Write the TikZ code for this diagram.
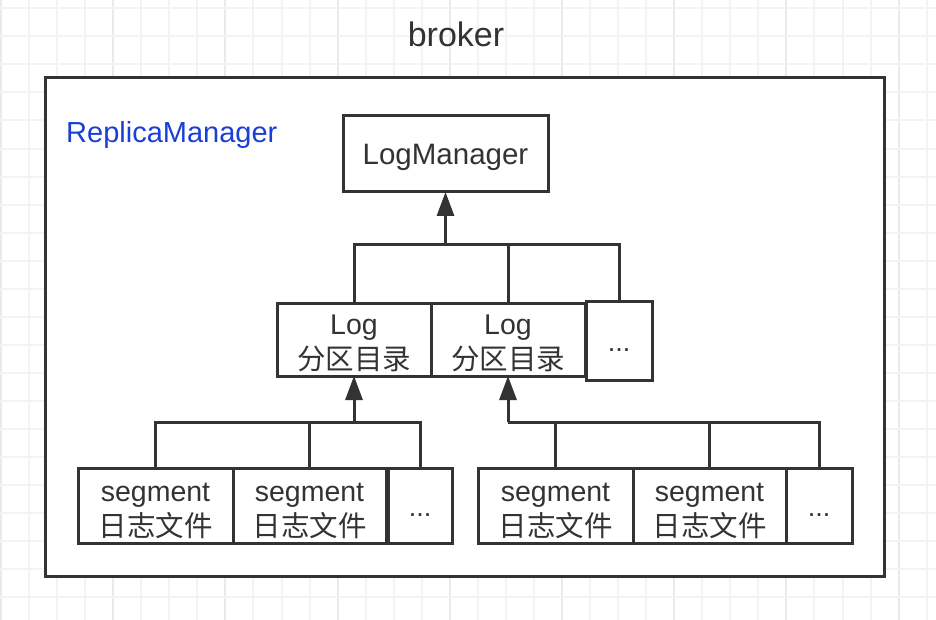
\documentclass[tikz,border=0pt]{standalone}
\usepackage{fontspec}
\setmainfont{Liberation Sans}
\newfontfamily\cjk{Noto Sans CJK SC}
\usetikzlibrary{arrows.meta}
\definecolor{ink}{HTML}{333333}
\definecolor{gridminor}{HTML}{F3F3F3}
\definecolor{gridmajor}{HTML}{EAEAEA}
\definecolor{rmblue}{HTML}{1A3FD6}
\tikzset{
  box/.style={draw=ink, line width=3pt, fill=white, inner sep=0pt, outer sep=0pt},
  boxtext/.style={text=ink, align=center, inner sep=0pt, font=\fontsize{28.5}{35}\selectfont},
  dotstext/.style={text=ink, inner sep=0pt, font=\fontsize{27}{30}\selectfont},
  conn/.style={draw=ink, line width=3pt},
  arr/.style={conn, -{Triangle[length=24pt,width=17pt]}},
}
\begin{document}
\begin{tikzpicture}[x=1pt,y=-1pt]
\useasboundingbox (0,0) rectangle (936,620);
\fill[white] (0,0) rectangle (936,620);
% grid
\foreach \k in {0,...,33} {
  \pgfmathsetmacro\gx{1+28.05*\k}
  \pgfmathtruncatemacro\m{mod(\k,4)}
  \ifnum\m=0
    \draw[gridmajor, line width=2pt] (\gx,0) -- (\gx,620);
  \else
    \draw[gridminor, line width=2pt] (\gx,0) -- (\gx,620);
  \fi
}
\foreach \k in {0,...,21} {
  \pgfmathsetmacro\gy{8.3+28.05*\k}
  \draw[gridminor, line width=2pt] (0,\gy) -- (936,\gy);
}
% title
\node[anchor=base, text=ink, font=\fontsize{34}{40}\selectfont, inner sep=0pt] (broker) at (456,46.7) {broker};
% outer box
\node[box, minimum width=839pt, minimum height=498pt] (outer) at (464.5,327) {};
\node[anchor=base west, text=rmblue, font=\fontsize{29}{34}\selectfont, inner sep=0pt] (rm) at (66,143) {ReplicaManager};
% LogManager
\node[box, minimum width=205pt, minimum height=76pt] (lm) at (445.5,154) {};
\node[boxtext, font=\fontsize{29.5}{35}\selectfont] (tlm) at ([yshift=-3pt]lm.center) {LogManager};
% Log boxes
\node[box, minimum width=154pt, minimum height=73pt] (log1) at (354,339.5) {};
\node[boxtext] (tlog1) at ([yshift=-3.5pt]log1.center) {Log\\{\cjk 分区目录}};
\node[box, minimum width=154pt, minimum height=73pt] (log2) at (508,339.5) {};
\node[boxtext] (tlog2) at ([yshift=-3.5pt]log2.center) {Log\\{\cjk 分区目录}};
\node[box, minimum width=66pt, minimum height=79pt] (dots1) at (619,340.5) {};
\node[dotstext] (tdots1) at ([yshift=-10pt]dots1.center) {...};
% segment boxes left
\node[box, minimum width=155pt, minimum height=75pt] (s1) at (155.5,505.5) {};
\node[boxtext] (ts1) at ([yshift=-5pt]s1.center) {segment\\{\cjk 日志文件}};
\node[box, minimum width=153pt, minimum height=75pt] (s2) at (309.5,505.5) {};
\node[boxtext] (ts2) at ([yshift=-5pt]s2.center) {segment\\{\cjk 日志文件}};
\node[box, minimum width=64pt, minimum height=75pt] (sd1) at (420,505.5) {};
\node[dotstext] (tsd1) at ([yshift=-10pt]sd1.center) {...};
% segment boxes right
\node[box, minimum width=155pt, minimum height=75pt] (s3) at (555.5,505.5) {};
\node[boxtext] (ts3) at ([yshift=-5pt]s3.center) {segment\\{\cjk 日志文件}};
\node[box, minimum width=153pt, minimum height=75pt] (s4) at (709.5,505.5) {};
\node[boxtext] (ts4) at ([yshift=-5pt]s4.center) {segment\\{\cjk 日志文件}};
\node[box, minimum width=66pt, minimum height=75pt] (sd2) at (819,505.5) {};
\node[dotstext] (tsd2) at ([yshift=-10pt]sd2.center) {...};
% connectors top
\coordinate (j1) at (445.5,245);
\draw[conn] (log1.north) |- (j1);
\draw[conn] (log2.north) |- (j1);
\draw[conn] (dots1.north) |- (j1);
\draw[arr] (j1) -- (lm.south);
% connectors left
\coordinate (j2) at (354,422);
\draw[conn] (s1.north) |- (j2);
\draw[conn] (s2.north) |- (j2);
\draw[conn] (sd1.north) |- (j2);
\draw[arr] (j2) -- (log1.south);
% connectors right
\coordinate (j3) at (508,422);
\draw[conn] (s3.north) |- (j3);
\draw[conn] (s4.north) |- (j3);
\draw[conn] (sd2.north) |- (j3);
\draw[arr] (j3) -- (log2.south);
\end{tikzpicture}
\end{document}
